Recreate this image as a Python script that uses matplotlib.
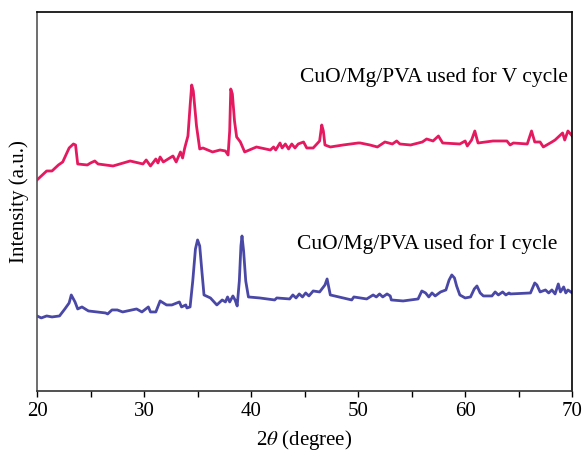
import matplotlib.pyplot as plt
import numpy as np

# XRD patterns (intensity in arbitrary units)
theta_v = [20.0, 20.9, 21.4, 22.0, 22.4, 23.0, 23.4, 23.6, 23.8, 24.7, 25.0, 25.4, 25.7,
           27.1, 28.7, 29.9, 30.2, 30.6, 31.1, 31.3, 31.5, 31.8, 32.7, 33.0, 33.4, 33.6,
           33.8, 34.1, 34.3, 34.45, 34.6, 34.9, 35.2, 35.5, 36.4, 37.1, 37.6, 37.85, 38.0,
           38.1, 38.25, 38.45, 38.65, 39.0, 39.4, 40.5, 41.8, 42.1, 42.3, 42.7, 42.9,
           43.2, 43.5, 43.8, 44.1, 44.4, 44.9, 45.2, 45.8, 46.4, 46.6, 46.75, 46.9,
           47.4, 48.6, 50.0, 50.2, 51.1, 51.8, 52.5, 53.2, 53.6, 53.9, 54.9, 56.0,
           56.4, 57.0, 57.5, 57.9, 59.5, 60.0, 60.2, 60.6, 60.9, 61.2, 62.6, 63.9,
           64.2, 64.5, 65.8, 66.2, 66.5, 67.0, 67.3, 68.1, 68.4, 69.1, 69.3, 69.6, 70.0]
int_v = [211, 220, 220, 226, 229, 243, 247, 246, 227, 226, 228, 230, 227,
         225, 230, 227, 231, 225, 232, 228, 234, 229, 235, 229, 239, 233,
         243, 255, 285, 306, 300, 265, 242, 243, 239, 241, 240, 236, 260,
         302, 297, 270, 254, 249, 239, 244, 241, 244, 241, 248, 243,
         247, 242, 247, 243, 247, 249, 243, 243, 250, 266, 260, 246,
         244, 246, 248, 248, 246, 244, 249, 247, 250, 247, 246, 249,
         252, 250, 255, 248, 247, 250, 245, 251, 260, 248, 250, 250,
         246, 248, 247, 260, 249, 249, 244, 249, 251, 258, 251, 260, 255]

theta_i = [20.0, 20.4, 20.9, 21.4, 22.1, 22.6, 23.0, 23.2, 23.55, 23.8, 24.2, 24.8,
           25.6, 26.4, 26.6, 27.0, 27.5, 28.0, 29.3, 29.8, 30.4, 30.6, 31.1, 31.5,
           32.1, 32.6, 33.3, 33.5, 33.9, 34.0, 34.3, 34.55, 34.8, 35.0, 35.2, 35.4,
           35.6, 36.2, 36.8, 37.3, 37.6, 37.8, 38.0, 38.3, 38.5, 38.7, 38.9, 39.05,
           39.15, 39.3, 39.5, 39.75, 40.8, 42.2, 42.4, 43.6, 43.9, 44.2, 44.5, 44.8,
           45.1, 45.4, 45.8, 46.4, 46.9, 47.1, 47.4, 48.6, 49.4, 49.6, 50.8, 51.4,
           51.7, 52.0, 52.3, 52.7, 53.0, 53.1, 54.2, 55.6, 55.95, 56.3, 56.6, 56.9,
           57.2, 57.7, 58.2, 58.5, 58.75, 59.0, 59.2, 59.5, 60.0, 60.5, 60.85, 61.1,
           61.4, 61.7, 62.5, 62.8, 63.1, 63.5, 63.8, 64.1, 64.2, 66.1, 66.5, 66.7,
           67.0, 67.5, 67.8, 68.1, 68.4, 68.7, 68.9, 69.2, 69.4, 69.6, 70.0]
int_i = [75, 73, 75, 74, 75, 82, 88, 96, 89, 82, 84, 80,
         79, 78, 77, 81, 81, 79, 82, 79, 84, 79, 79, 90,
         86, 86, 89, 84, 86, 83, 84, 110, 142, 151, 145, 120,
         96, 93, 86, 91, 89, 94, 89, 95, 91, 85, 110, 145,
         155, 140, 110, 94, 93, 91, 93, 92, 96, 93, 97, 94,
         98, 95, 100, 99, 106, 112, 96, 93, 91, 94, 92, 96,
         94, 97, 94, 97, 95, 91, 90, 92, 100, 98, 94, 98,
         95, 99, 101, 111, 116, 113, 105, 96, 93, 94, 102, 105,
         98, 95, 95, 99, 96, 99, 96, 98, 97, 98, 108, 106,
         99, 101, 98, 101, 97, 107, 99, 104, 98, 101, 98]

plt.rcParams['mathtext.fontset'] = 'stix'
serif = ['Liberation Serif', 'DejaVu Serif']

fig = plt.figure(figsize=(5.83, 4.53), dpi=100)
ax = fig.add_axes([0.0635, 0.137, 0.918, 0.8365])

ax.plot(theta_v, int_v, color='#e5195f', lw=2.0, solid_joinstyle='round')
ax.plot(theta_i, int_i, color='#4a48a6', lw=2.0, solid_joinstyle='round')

ax.text(69.6, 314, 'CuO/Mg/PVA used for V cycle', ha='right', va='center',
        fontsize=15.5, family=serif)
ax.text(68.6, 147, 'CuO/Mg/PVA used for I cycle', ha='right', va='center',
        fontsize=15.5, family=serif)

ax.set_xlim(20, 70)
ax.set_ylim(0, 379)
ax.set_xticks(np.arange(20, 71, 10))
ax.set_xticks(np.arange(25, 70, 10), minor=True)
ax.set_yticks([])
ax.tick_params(axis='x', which='both', direction='out', length=4, width=1,
               labelsize=15, pad=4)
for lab in ax.get_xticklabels():
    lab.set_family(serif)

ax.set_xlabel(r'2$\theta$ (degree)', fontsize=15, family=serif, labelpad=5)
ax.set_ylabel('Intensity (a.u.)', fontsize=15, family=serif, labelpad=6)

for s in ax.spines.values():
    s.set_linewidth(1.2)
ax.spines['left'].set_color('#555555')
ax.spines['bottom'].set_color('#333333')

fig.savefig('out.png', dpi=100)
